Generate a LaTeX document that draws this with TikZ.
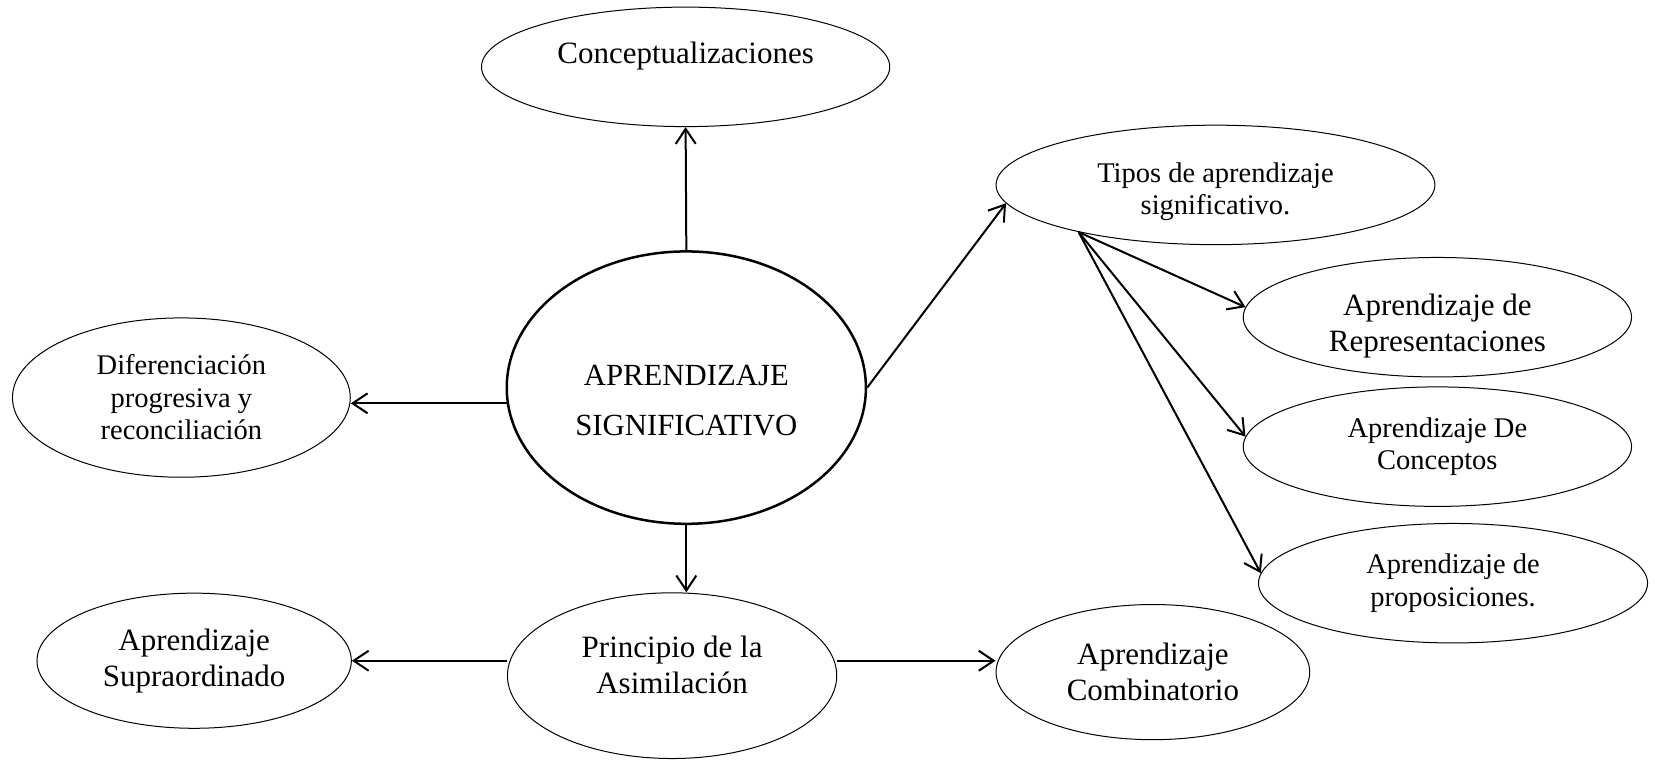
\documentclass[tikz,border=0pt]{standalone}
\usepackage{fontspec}
\setmainfont{Liberation Serif}
\usetikzlibrary{shapes.geometric, arrows.meta}

\begin{document}
\begin{tikzpicture}[
      idea/.style={ellipse, draw, line width=0.4pt, inner sep=0pt, align=center,
        minimum width=5.46cm, minimum height=1.68cm, font=\fontsize{12.4}{14.4}\selectfont},
      small idea/.style={idea, font=\fontsize{11.4}{13}\selectfont},
      core/.style={idea, line width=1pt, font=\fontsize{12.3}{20}\selectfont},
      link/.style={line width=0.8pt, -{Straight Barb[length=6pt, width=8pt]}}
  ]

  \useasboundingbox (0,0) rectangle (23.27,-10.68);

  % centre and its four branches
  \node [core, minimum width=5.05cm, minimum height=3.83cm, text height=38.5pt] (Aprendizaje) at (9.65,-5.45) {APRENDIZAJE\\SIGNIFICATIVO};
  \node [idea, minimum width=5.74cm, text depth=11.2pt] (Conceptualizaciones) at (9.64,-0.94) {Conceptualizaciones};
  \node [small idea, minimum width=4.75cm, minimum height=2.24cm] (Diferenciacion) at (2.55,-5.59) {Diferenciación\\progresiva y\\reconciliación};
  \node [idea, minimum width=4.63cm, minimum height=2.33cm, text depth=8.4pt] (Principio) at (9.45,-9.50) {Principio de la\\Asimilación};
  \node [small idea, minimum width=6.17cm, text height=26.3pt] (Tipos) at (17.09,-2.60) {Tipos de aprendizaje\\significativo.};

  % under the assimilation
  \node [idea, minimum width=4.42cm, minimum height=1.90cm] (Supraordinado) at (2.73,-9.29) {Aprendizaje\\Supraordinado};
  \node [idea, minimum width=4.41cm, minimum height=1.90cm] (Combinatorio) at (16.21,-9.45) {Aprendizaje\\Combinatorio};

  % types
  \node [idea, text height=29.7pt] (Representaciones) at (20.21,-4.46) {Aprendizaje de\\Representaciones};
  \node [small idea] (Conceptos) at (20.21,-6.28) {Aprendizaje De\\Conceptos};
  \node [small idea, minimum width=5.47cm] (Proposiciones) at (20.43,-8.20) {Aprendizaje de\\proposiciones.};

  \draw [link] (Aprendizaje.north) -- (Conceptualizaciones.south);
  \draw [link] (Aprendizaje.185) -- (Aprendizaje.185 -| Diferenciacion.east);
  \draw [link] (Aprendizaje.east) -- (Tipos.185);
  \draw [link] (Aprendizaje.south) -- (Aprendizaje.south |- Principio.north);
  \draw [link] (Principio.west |- Supraordinado.east) -- (Supraordinado.east);
  \draw [link] (Principio.east |- Supraordinado.east) -- (Combinatorio.west |- Supraordinado.east);

  \draw [link] (Tipos.199) -- (Representaciones.177);
  \draw [link] (Tipos.199) -- (Conceptos.177);
  \draw [link] (Tipos.199) -- (Proposiciones.177);

\end{tikzpicture}
\end{document}
